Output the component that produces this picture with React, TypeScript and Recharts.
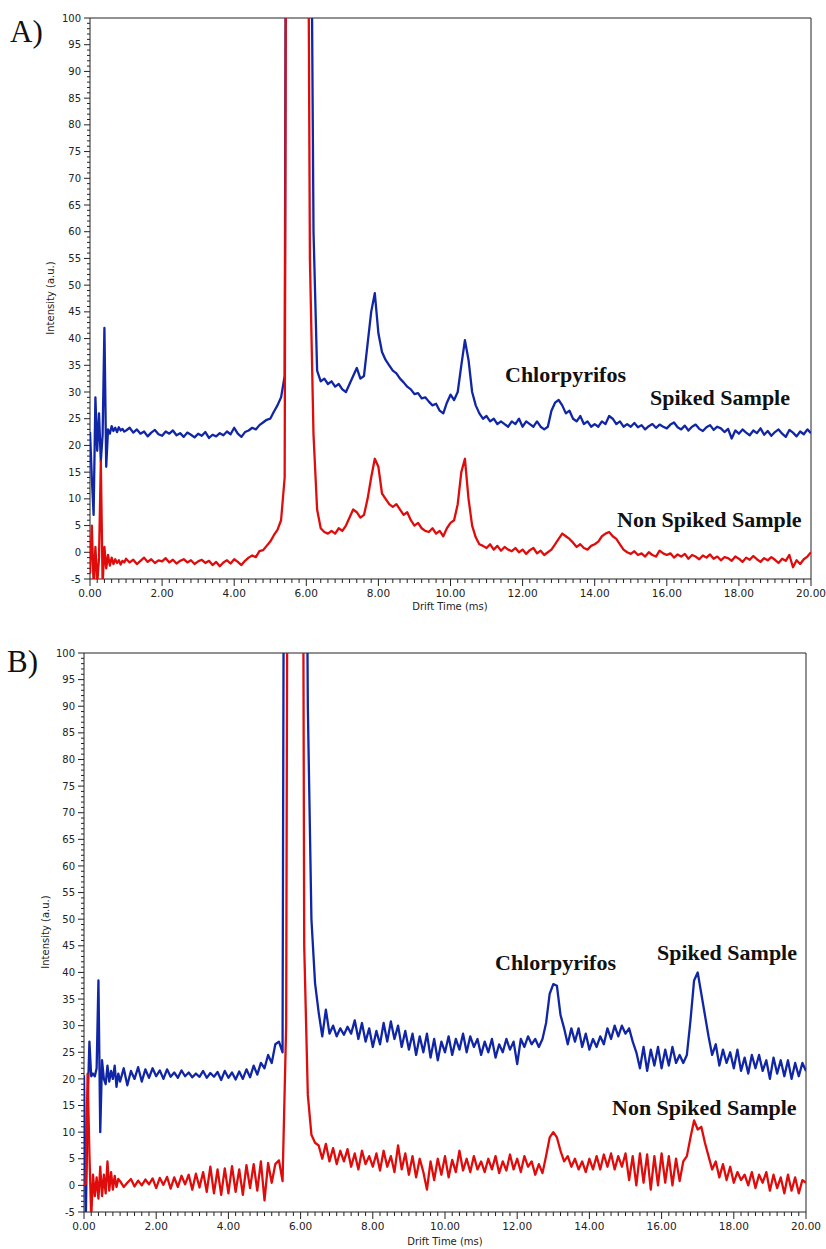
import React from 'react';
import { LineChart, Line, XAxis, YAxis, ReferenceArea } from 'recharts';

// Drift time grid: 0.05 ms steps up to 0.95, then 0.1 ms steps from 1.0 to 20.0
const HEAD_TIME = Array.from({ length: 20 }, (_, i) => +(i * 0.05).toFixed(2));
const BODY_TIME = Array.from({ length: 191 }, (_, i) => +(1 + i * 0.1).toFixed(1));
const DRIFT_TIME = [...HEAD_TIME, ...BODY_TIME];

const Y_MAJOR = [-5, 0, 5, 10, 15, 20, 25, 30, 35, 40, 45, 50, 55, 60, 65, 70, 75, 80, 85, 90, 95, 100];
const X_MAJOR = [0, 2, 4, 6, 8, 10, 12, 14, 16, 18, 20];

// Panel A — spiked sample (blue)
const A_SPIKED_HEAD = [22.5, 14, 7, 29, 19, 26, 17, 22, 42, 16, 23, 22.2, 23.6, 22.7, 23.3, 22.5, 23.4, 22.8, 23.1, 22.6];
const A_SPIKED_BODY = [
  22.8, 23.3, 22.4, 23, 22.2, 22.6, 21.7, 22.4, 22.9, 22.1,
  21.8, 22.6, 22.2, 22.8, 21.9, 22.3, 21.6, 22.4, 22, 21.5,
  22.2, 21.8, 22.5, 21.4, 22, 21.7, 22.3, 21.9, 22.6, 22.1,
  23.3, 22.2, 21.6, 22.5, 22.8, 23.3, 23, 23.8, 24.3, 24.8,
  25, 26.3, 27.5, 29, 33, 300, 300, 300, 300, 300,
  300, 160, 60, 34, 32, 32.5, 31.5, 32, 31, 31.5,
  30.5, 30, 31.5, 33, 34.5, 32.5, 33, 39, 45, 48.5,
  41, 37.5, 36, 35, 34, 33.5, 32.5, 31.8, 31, 30.5,
  29.6, 29.8, 28.8, 29, 28.2, 27.5, 27.8, 26.5, 26, 28,
  29.5, 28.5, 30, 35, 39.7, 36, 30, 27.5, 26, 25,
  25.5, 24.5, 25, 24, 24.5, 24, 23.5, 24.5, 24, 25,
  23.5, 24.5, 24, 23.5, 24.5, 23.5, 23, 23.5, 26.5, 28,
  28.5, 27.5, 26, 26.5, 25, 24.5, 25.5, 24, 24.5, 23.5,
  24, 23.5, 24.5, 24, 25.5, 25, 24, 24.5, 23.5, 24,
  23.5, 24.2, 23.4, 23.8, 23, 23.6, 24, 23.3, 23.9, 23.5,
  23.2, 23.9, 24.3, 23.4, 23, 23.7, 22.8, 23.5, 23.9, 23.1,
  22.7, 23.4, 23.8, 22.9, 23.5, 23.2, 22.5, 23.1, 21.3, 22.8,
  22.2, 23, 22.4, 21.9, 22.8, 22.3, 23.2, 22, 22.7, 21.8,
  22.5, 23, 22.2, 21.6, 22.9, 22.4, 21.7, 22.6, 22.1, 23,
  22.3,
];

// Panel A — non spiked sample (red)
const A_NON_HEAD = [-4, 5, -6, 1, -6, -1, 17, -6, 1, -3, -0.5, -2.5, -1, -2.2, -1.3, -2, -1.5, -2.3, -1.6, -1.9];
const A_NON_BODY = [
  -1.2, -1.9, -1.4, -2.2, -1.6, -1, -1.8, -1.3, -2, -1.5,
  -1.7, -1.1, -1.9, -1.4, -2.1, -1.6, -1.3, -1.9, -1.5, -2.2,
  -1.7, -1.4, -2, -1.6, -2.4, -1.8, -2.6, -1.9, -1.5, -2.1,
  -1.3, -1.8, -2.4, -1.6, -1, -0.6, -0.9, 0.2, 0.4, 1.2,
  2, 3.2, 4.2, 6, 14, 300, 300, 300, 300, 300,
  200, 55, 22, 8, 4.5, 3.8, 3.5, 4, 3.5, 4.5,
  4, 5, 6.5, 8, 7.5, 6.5, 7, 10, 14, 17.5,
  16, 11, 10, 9, 8.5, 9, 8, 7, 7.5, 6,
  5, 5.5, 4.5, 4, 3.8, 4.5, 3.5, 4, 3, 4.5,
  5.5, 6, 9, 15, 17.5, 10, 5, 2.8, 1.5, 1.2,
  0.8, 1.5, 0.5, 1.2, 0.3, 1, 0.5, 0.2, 0.8, 0,
  0.5, -0.3, 0.4, 0.8, -0.2, 0.3, -0.5, 0, 0.5, 1.5,
  2.5, 3.5, 3, 2.5, 1.8, 1, 1.5, 0.8, 0.5, 1.2,
  1.5, 2, 3, 3.5, 3.8, 3, 2.5, 1.5, 0.5, 0,
  -0.3, 0.2, -0.5, -0.2, -0.8, 0, -0.5, -0.8, 0.3, -0.2,
  -0.5, -0.2, -1, -0.4, -0.8, -0.3, -1.2, -0.5, -0.8, -1.3,
  -0.6, -1, -0.4, -1.2, -0.8, -1.5, -0.9, -1.1, -1.6, -0.8,
  -1.2, -1.8, -1, -1.4, -0.7, -1.3, -1.8, -1.1, -1.5, -0.9,
  -1.4, -2, -1.2, -1.6, -0.5, -2.8, -1.5, -2.2, -1.3, -0.8,
  0,
];

// Panel B — spiked sample (blue)
const B_SPIKED_HEAD = [20.7, -6, 15, 27, 20.5, 21, 20.5, 22, 38.5, 10, 23.5, 20, 19, 22.5, 19.5, 21.5, 20, 22.5, 18.5, 21];
const B_SPIKED_BODY = [
  19.5, 22, 18.8, 21.5, 20, 22.2, 19.5, 21.8, 20.2, 22,
  20.5, 21.6, 20, 21.8, 20.4, 21.2, 20.2, 21.6, 20.5, 21.2,
  20.3, 21, 20.4, 21.5, 20.2, 21.1, 20.4, 21.3, 19.8, 21.5,
  20.2, 21.2, 19.9, 21.4, 20, 21.8, 20.3, 22.5, 20.8, 23,
  22, 24.5, 23, 26.5, 27, 25, 300, 300, 300, 300,
  300, 200, 90, 50, 38, 32.5, 28, 33, 28.5, 30,
  28, 29.5, 28.3, 29.8, 28.5, 31, 27.5, 30.5, 27, 29.5,
  26, 29, 26.5, 30.5, 27, 30.8, 27.5, 30, 26, 29,
  25.5, 28.5, 24.5, 28, 25, 28.5, 24, 27.5, 23.5, 27,
  25, 28, 24.5, 27.5, 25.5, 28.5, 25, 28, 26, 27.5,
  24.5, 27, 25, 27.5, 24, 26.5, 25, 27.5, 25.5, 27,
  22.8, 27.5, 26, 28, 26.5, 27.5, 26, 27.5, 30.5, 36,
  37.8, 37.5, 32, 29.5, 26.5, 29.5, 27, 29.5, 26, 28.5,
  25.5, 27.5, 26, 28, 26.5, 29.5, 27.5, 30, 28, 30,
  28.5, 29.5, 27, 25, 22, 26, 21.5, 25.5, 22.5, 26,
  22, 25.5, 22.5, 26, 23, 24.5, 23, 24.5, 31, 38.5,
  40, 36, 32, 28, 24.5, 26.5, 22.5, 25.5, 23, 25,
  22, 25.5, 21.5, 24, 21, 24.5, 22, 24.5, 21.5, 23.5,
  20, 24, 21, 23.5, 20.5, 23.5, 20, 23, 20.5, 23,
  21.5,
];

// Panel B — non spiked sample (red)
const B_NON_HEAD = [0, 0.3, 21, 6, -6, 2, -2, 1.5, -2.5, 3.5, -2, 2, -1.5, 4.5, -1, 2.5, -0.8, 1.8, -0.3, 1.2];
const B_NON_BODY = [
  0.8, -0.3, 0.5, 1.2, -0.2, 0.9, 0, 1.1, 0.2, 1.3,
  -0.5, 1.4, 0.1, 1.6, -0.6, 1.5, -0.3, 1.8, 0.2, 2,
  -0.8, 2.2, -0.4, 2.5, -1.2, 3.5, -1.5, 3, -1.8, 3.2,
  -1.5, 3.6, -1.2, 3, -1.8, 3.8, -0.5, 4, -1, 4.5,
  -2.8, 4.2, 0.5, 4, 4.7, 0.8, 30, 300, 300, 300,
  300, 45, 17, 9.5, 8, 7.5, 5, 7.8, 4.5, 7,
  4, 6.5, 4.5, 6.8, 3.5, 6, 3, 6.5, 4, 5.5,
  3.5, 6, 2.8, 6.5, 3.5, 5.5, 2.5, 7.5, 3, 6,
  2, 5.5, 1.5, 5, 2.5, -0.8, 4.5, 1, 5, 2,
  5.5, 1.5, 4.8, 2.5, 6.5, 2.8, 5, 2.5, 5.5, 3,
  4.5, 2.5, 5, 3, 5.5, 2.3, 4.5, 2.8, 5.8, 3,
  5, 2.5, 5.5, 3.5, 4.5, 2, 4, 2.3, 5.5, 9,
  10, 9, 6.5, 4.5, 5.5, 3.5, 5, 3, 4.5, 2.5,
  5, 3, 5.5, 3, 5.8, 3.5, 6, 3, 5.5, 3.5,
  6, 1, 5.5, 0, 6, 0.5, 5.8, -0.8, 5.5, 0,
  6, 0.5, 5.5, 0, 5, 0.8, 4.5, 5.5, 9, 12.2,
  10.5, 11, 8, 5.5, 3, 4.5, 1.5, 4, 1, 3.5,
  0.5, 2.5, 1, 2, 0, 2.5, -0.5, 2, 0.5, 2.5,
  -1, 2, -0.5, 1.5, -1.5, 2, -1, 1.5, -1.5, 1,
  0.5,
];

const BLUE = '#1026a6';
const RED = '#e00c0c';
const TICK_FONT = 'DejaVu Sans, Verdana, sans-serif';
const SERIF = 'Liberation Serif, Times New Roman, serif';

const buildRows = (spiked: number[], nonSpiked: number[]) =>
  DRIFT_TIME.map((t, i) => ({ t, spiked: spiked[i], nonSpiked: nonSpiked[i] }));

const panelA = buildRows([...A_SPIKED_HEAD, ...A_SPIKED_BODY], [...A_NON_HEAD, ...A_NON_BODY]);
const panelB = buildRows([...B_SPIKED_HEAD, ...B_SPIKED_BODY], [...B_NON_HEAD, ...B_NON_BODY]);

// minor ticks every 1 a.u. and every 0.2 ms, labelled ones come from the major lists
const yTicks = Array.from({ length: 106 }, (_, i) => i - 5);
const xTicks = Array.from({ length: 101 }, (_, i) => +(i * 0.2).toFixed(1));

const isMajorX = (v: number) => X_MAJOR.some((m) => Math.abs(m - v) < 1e-6);

const YTick = (props: any) => {
  const { x, y, payload } = props;
  const v = payload.value;
  const major = Y_MAJOR.includes(v);
  return (
    <g>
      <line x1={x - (major ? 6 : 3)} x2={x} y1={y} y2={y} stroke="#222" strokeWidth={1} />
      {major && (
        <text x={x - 9} y={y} dy="0.36em" textAnchor="end" fontSize={10} fontFamily={TICK_FONT} fill="#222">
          {v}
        </text>
      )}
    </g>
  );
};

const XTick = (props: any) => {
  const { x, y, payload } = props;
  const v = payload.value;
  const major = isMajorX(v);
  return (
    <g>
      <line x1={x} x2={x} y1={y} y2={y + (major ? 7 : 4)} stroke="#222" strokeWidth={1} />
      {major && (
        <text x={x} y={y + 18} textAnchor="middle" fontSize={10.5} fontFamily={TICK_FONT} fill="#222">
          {v.toFixed(2)}
        </text>
      )}
    </g>
  );
};

function Panel({ data, width, height, margin }: { data: any[]; width: number; height: number; margin: any }) {
  return (
    <LineChart width={width} height={height} data={data} margin={margin}>
      <XAxis
        dataKey="t"
        type="number"
        domain={[0, 20]}
        ticks={xTicks}
        interval={0}
        allowDataOverflow
        axisLine={false}
        tickLine={false}
        tickSize={0}
        tickMargin={0}
        height={30}
        tick={XTick}
      />
      <YAxis
        type="number"
        domain={[-5, 100]}
        ticks={yTicks}
        interval={0}
        allowDataOverflow
        axisLine={false}
        tickLine={false}
        tickSize={0}
        tickMargin={0}
        width={40}
        tick={YTick}
      />
      <ReferenceArea x1={0} x2={20} y1={-5} y2={100} fill="none" stroke="#222" strokeWidth={1} />
      <Line type="linear" dataKey="spiked" stroke={BLUE} strokeWidth={2.3} dot={false} isAnimationActive={false} strokeLinejoin="round" />
      <Line type="linear" dataKey="nonSpiked" stroke={RED} strokeWidth={2.3} dot={false} isAnimationActive={false} strokeLinejoin="round" />
    </LineChart>
  );
}

export default function App() {
  const note = { fontFamily: SERIF, fontWeight: 700, fontSize: 22, fill: '#111' } as const;
  const small = { fontFamily: TICK_FONT, fontSize: 10, fill: '#222' } as const;
  return (
    <div style={{ position: 'absolute', left: 0, top: 0, width: 826, height: 1249, background: '#fff' }}>
      <div style={{ position: 'absolute', left: 0, top: 0 }}>
        <Panel data={panelA} width={826} height={620} margin={{ top: 18, right: 15, bottom: 11, left: 50 }} />
      </div>
      <div style={{ position: 'absolute', left: 0, top: 620 }}>
        <Panel data={panelB} width={826} height={629} margin={{ top: 33, right: 20, bottom: 7, left: 44 }} />
      </div>
      <svg width={826} height={1249} style={{ position: 'absolute', left: 0, top: 0, pointerEvents: 'none' }}>
        <text x={10} y={42} fontFamily={SERIF} fontSize={31} fill="#111">A)</text>
        <text x={7} y={672} fontFamily={SERIF} fontSize={31} fill="#111">B)</text>

        <text {...note} x={505} y={382}>Chlorpyrifos</text>
        <text {...note} x={650} y={405}>Spiked Sample</text>
        <text {...note} x={617} y={527}>Non Spiked Sample</text>

        <text {...note} x={495} y={970}>Chlorpyrifos</text>
        <text {...note} x={657} y={960}>Spiked Sample</text>
        <text {...note} x={612} y={1115}>Non Spiked Sample</text>

        <text {...small} x={54} y={298} textAnchor="middle" transform="rotate(-90 54 298)">Intensity (a.u.)</text>
        <text {...small} x={49} y={932} textAnchor="middle" transform="rotate(-90 49 932)">Intensity (a.u.)</text>
        <text {...small} x={450} y={610} textAnchor="middle">Drift Time (ms)</text>
        <text {...small} x={445} y={1245} textAnchor="middle">Drift Time (ms)</text>
      </svg>
    </div>
  );
}
